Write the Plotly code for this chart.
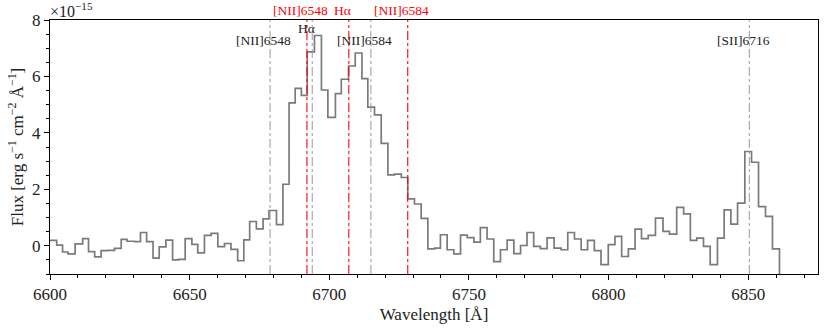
import plotly.graph_objects as go

# spectrum: left edge of each bin [Angstrom] and flux [1e-15 erg/s/cm2/A]
wave = [
    6597.0, 6602.4, 6604.5, 6606.4, 6609.0, 6611.7, 6613.8, 6616.0, 6618.3, 6620.7,
    6623.1, 6625.5, 6627.6, 6630.3, 6632.4, 6634.6, 6636.9, 6639.1, 6641.5, 6643.9,
    6646.0, 6648.4, 6650.8, 6652.9, 6655.3, 6657.7, 6660.1, 6662.5, 6664.8, 6667.2,
    6669.4, 6671.5, 6673.9, 6676.3, 6678.4, 6681.1, 6683.4, 6685.6, 6687.8, 6690.0,
    6692.1, 6694.7, 6697.2, 6699.5, 6702.2, 6704.3, 6706.9, 6709.3, 6711.7, 6713.8,
    6716.2, 6718.6, 6721.0, 6723.4, 6725.8, 6728.1, 6730.5, 6732.9, 6735.3, 6737.7,
    6739.8, 6742.2, 6744.6, 6747.0, 6749.4, 6751.8, 6754.1, 6756.5, 6758.9, 6761.3,
    6763.7, 6766.1, 6768.5, 6770.8, 6773.2, 6775.6, 6778.0, 6780.5, 6783.0, 6785.4,
    6787.8, 6790.2, 6792.5, 6794.9, 6797.3, 6799.9, 6802.3, 6804.7, 6807.1, 6809.5,
    6811.8, 6814.2, 6816.8, 6819.5, 6821.8, 6824.4, 6826.9, 6829.3, 6831.6, 6834.0,
    6836.4, 6839.0, 6841.4, 6843.8, 6846.2, 6848.8, 6851.2, 6853.7, 6856.2, 6858.7,
    6861.2,
]
flux = [
    0.19, 0.02, -0.22, -0.29, 0.07, 0.25, -0.21, -0.39, -0.17, -0.16,
    -0.09, 0.23, 0.16, 0.15, 0.47, 0.15, -0.44, -0.04, 0.20, -0.50,
    -0.48, 0.25, 0.05, -0.25, 0.37, 0.44, -0.03, 0.08, -0.13, -0.53,
    0.21, 0.86, 0.60, 0.95, 1.25, 0.75, 2.18, 5.06, 5.58, 5.33,
    6.87, 7.45, 5.52, 4.55, 5.39, 5.90, 6.37, 6.83, 5.92, 4.91,
    4.64, 3.63, 2.51, 2.54, 2.42, 1.66, 1.48, 0.97, -0.11, -0.08,
    0.39, -0.14, -0.29, 0.38, 0.29, 0.13, 0.64, 0.24, -0.56, -0.14,
    0.20, -0.28, 0.01, 0.47, -0.02, -0.10, 0.28, -0.08, -0.14, 0.47,
    0.24, -0.14, 0.19, -0.17, -0.67, 0.04, 0.33, -0.38, -0.11, 0.59,
    0.25, 0.37, 0.98, 0.51, 0.41, 1.36, 1.13, 0.19, 0.27, -0.02,
    -0.67, 0.27, 1.27, 0.77, 1.51, 3.34, 2.96, 1.39, 1.04, -0.11,
    -5.0,
]

# emission lines, two redshift solutions
grey_text = ['[NII]6548', 'Hα', '[NII]6584', '[SII]6716']
grey_wave = [6678.8, 6693.9, 6714.9, 6850.4]
grey_text_y = [7.26, 7.7, 7.26, 7.26]

red_text = ['[NII]6548', 'Hα', '[NII]6584']
red_wave = [6692.0, 6707.0, 6728.1]

FONT = 'Liberation Serif'
TXT = '#222'

fig = go.Figure()
fig.add_trace(go.Scatter(
    x=wave, y=flux, mode='lines', line_shape='hv',
    line=dict(color='#7a7a7a', width=1.7), showlegend=False,
))

for w in grey_wave:
    fig.add_shape(type='line', x0=w, x1=w, y0=0, y1=1, xref='x', yref='paper',
                  line=dict(color='#9a9a9a', width=1, dash='dashdot'))
for w in red_wave:
    fig.add_shape(type='line', x0=w, x1=w, y0=0, y1=1, xref='x', yref='paper',
                  line=dict(color='red', width=1.1, dash='dashdot'))

for t, w, yy in zip(grey_text, grey_wave, grey_text_y):
    fig.add_annotation(x=w - 2.2, y=yy, text=t, showarrow=False,
                       font=dict(family=FONT, size=13.5, color=TXT),
                       xanchor='center', yanchor='middle')
for t, w in zip(red_text, red_wave):
    fig.add_annotation(x=w - 2.2, y=1.0, yref='paper', text=t, showarrow=False,
                       font=dict(family=FONT, size=13.5, color='red'),
                       xanchor='center', yanchor='bottom')

# offset text of the y axis
fig.add_annotation(x=0, y=1.0, xref='paper', yref='paper', text='×10<sup>−15</sup>',
                   showarrow=False, xanchor='left', yanchor='middle',
                   xshift=-2, yshift=10,
                   font=dict(family=FONT, size=16, color=TXT))

axis_common = dict(
    showline=True, linecolor='black', linewidth=1, mirror=True,
    ticks='outside', ticklen=5, tickcolor='black', tickwidth=1,
    showgrid=False, zeroline=False, automargin=False,
    tickfont=dict(family=FONT, size=17, color=TXT),
)

fig.update_xaxes(
    range=[6600, 6875], dtick=50, tick0=6600,
    title=dict(text='Wavelength [Å]', font=dict(family=FONT, size=17, color=TXT), standoff=4),
    minor=dict(dtick=10, ticks='outside', ticklen=3, tickcolor='black'),
    **axis_common,
)
fig.update_yaxes(
    range=[-1, 8], dtick=2, tick0=0,
    title=dict(text='Flux [erg s<sup>−1</sup> cm<sup>−2</sup> Å<sup>−1</sup>]',
               font=dict(family=FONT, size=17, color=TXT), standoff=4),
    minor=dict(dtick=0.5, ticks='outside', ticklen=3, tickcolor='black'),
    **axis_common,
)

fig.update_layout(
    width=830, height=329,
    margin=dict(l=50, r=12, t=20, b=55),
    plot_bgcolor='white', paper_bgcolor='white',
    font=dict(family=FONT),
)

# drop the browser's default page margin so the figure sits at the window corner
fig.write_html("out.html", config={'displayModeBar': False},
               post_script="document.body.style.margin='0';")
